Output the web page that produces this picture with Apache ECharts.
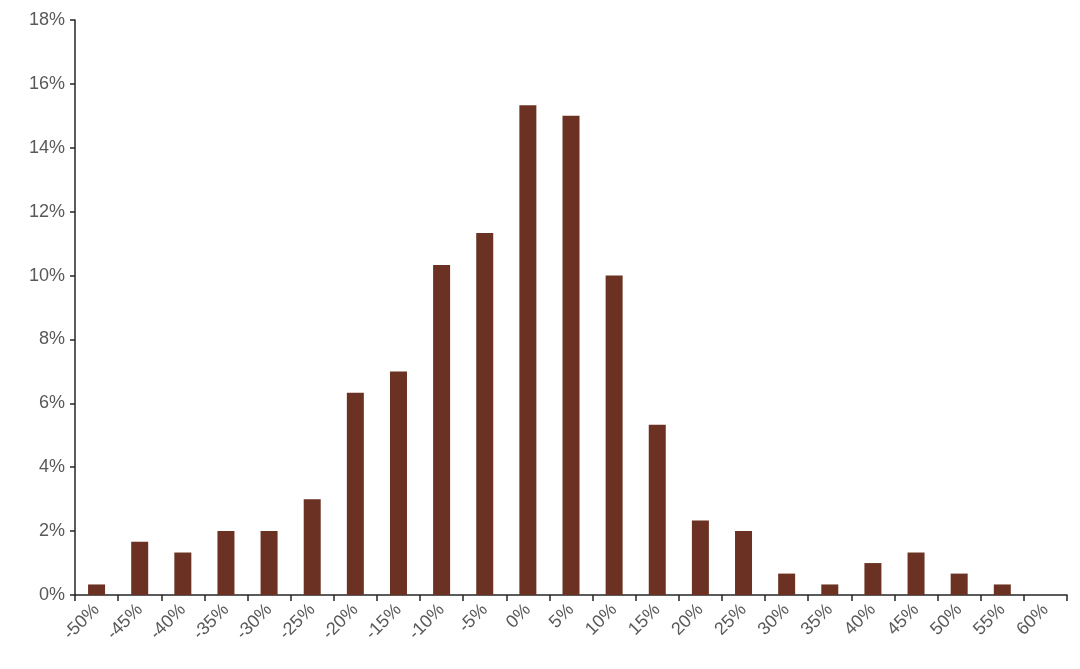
<!DOCTYPE html>
<html>
<head>
<meta charset="utf-8">
<script src="https://cdn.jsdelivr.net/npm/echarts@6/dist/echarts.min.js"></script>
<style>html,body{margin:0;padding:0;background:#fff}#main{width:1080px;height:669px}</style>
</head>
<body>
<div id="main"></div>
<script>
var categories = ['-50%','-45%','-40%','-35%','-30%','-25%','-20%','-15%','-10%','-5%','0%','5%','10%','15%','20%','25%','30%','35%','40%','45%','50%','55%','60%'];
var values = [0.33,1.67,1.33,2.0,2.0,3.0,6.33,7.0,10.33,11.33,15.33,15.0,10.0,5.33,2.33,2.0,0.67,0.33,1.0,1.33,0.67,0.33,0];

var myChart = echarts.init(document.getElementById('main'));
var axisColor = '#262626';
var textStyle = { color: '#595959', fontSize: 18, fontFamily: 'Liberation Sans, Arial, sans-serif' };
myChart.setOption({
	animation: false,
	grid: { left: 75, right: 13, top: 20, bottom: 74 },
	xAxis: {
		type: 'category',
		data: categories,
		axisLine: { lineStyle: { color: axisColor, width: 1.5 } },
		axisTick: { show: true, length: 6, lineStyle: { color: axisColor, width: 1.5 } },
		axisLabel: Object.assign({ rotate: 45, interval: 0, margin: 12 }, textStyle)
	},
	yAxis: {
		type: 'value',
		min: 0, max: 18, interval: 2,
		splitLine: { show: false },
		axisLine: { show: true, lineStyle: { color: axisColor, width: 1.5 } },
		axisTick: { show: true, length: 5, lineStyle: { color: axisColor, width: 1.5 } },
		axisLabel: Object.assign({ formatter: '{value}%', margin: 10 }, textStyle)
	},
	series: [{
		type: 'bar',
		data: values,
		barWidth: 17,
		itemStyle: { color: '#6b3223' }
	}]
});
</script>
</body>
</html>
